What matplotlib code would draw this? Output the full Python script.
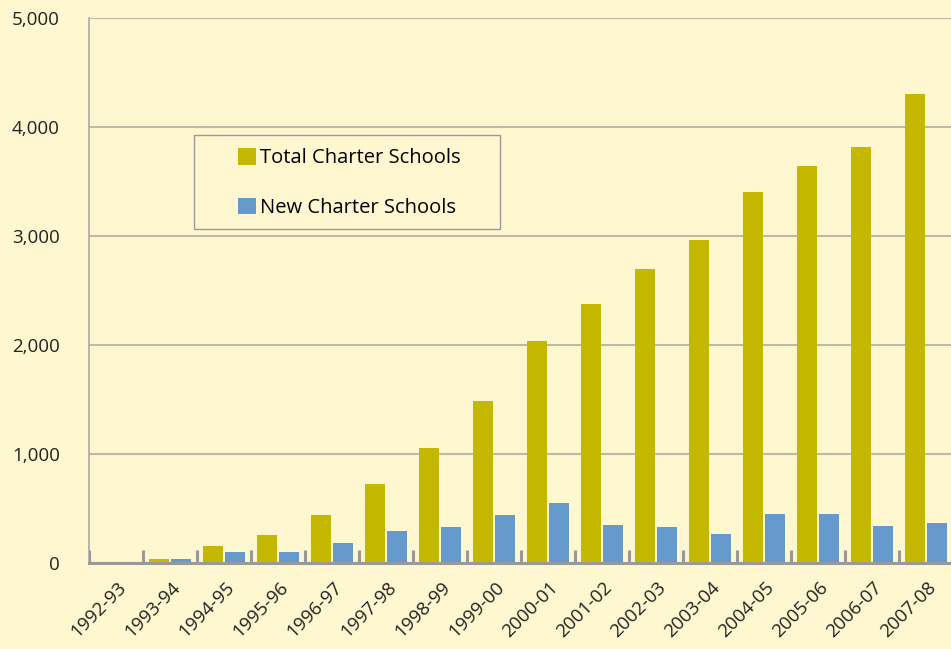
import matplotlib
matplotlib.use('agg')
import matplotlib.pyplot as plt
from matplotlib.patches import Rectangle
import numpy as np

years = ['1992-93', '1993-94', '1994-95', '1995-96', '1996-97', '1997-98',
         '1998-99', '1999-00', '2000-01', '2001-02', '2002-03', '2003-04',
         '2004-05', '2005-06', '2006-07', '2007-08']
total_schools = [0, 36, 156, 257, 440, 725, 1055, 1486, 2037, 2376, 2697,
                 2963, 3404, 3642, 3817, 4303]
new_schools = [0, 36, 100, 100, 183, 294, 330, 440, 550, 349, 330, 266,
               450, 450, 340, 367]
y_ticks = [0, 1000, 2000, 3000, 4000, 5000]

BG = '#fff7cf'
GOLD = '#c4b800'
BLUE = '#6699cc'
GRID = '#bdbba8'

plt.rcParams['font.family'] = ['Open Sans', 'DejaVu Sans']

fig = plt.figure(figsize=(9.51, 6.49), dpi=100, facecolor=BG)
# axis box runs a touch past the right edge, as in the original
ax = fig.add_axes([89 / 951, 86 / 649, 864 / 951, 545 / 649])
ax.set_facecolor(BG)

x = np.arange(len(years))
w = 0.37
ax.bar(x - w / 2 - 0.02, total_schools, w, color=GOLD,
       label='Total Charter Schools', zorder=3)
ax.bar(x + w / 2 + 0.02, new_schools, w, color=BLUE,
       label='New Charter Schools', zorder=3)

ax.set_xlim(-0.5, len(years) - 0.5)
ax.set_ylim(0, 5000)
ax.set_yticks(y_ticks)
ax.set_yticklabels(['{:,}'.format(v) for v in y_ticks], fontsize=13.5,
                   color='#222222')
ax.yaxis.grid(True, color=GRID, linewidth=1.5, zorder=0)
ax.tick_params(axis='y', length=0, pad=21)

ax.set_xticks(x + 0.02)
ax.set_xticklabels(years, rotation=45, ha='right', rotation_mode='anchor',
                   fontsize=13.5, color='#222222')
ax.tick_params(axis='x', length=0, pad=11)
for b in np.arange(len(years)) - 0.5:
    ax.plot([b, b], [0, 120], color='#999999', linewidth=2.2, zorder=4,
            solid_capstyle='butt')

ax.spines['right'].set_visible(False)
ax.spines['top'].set_color(GRID)
ax.spines['left'].set_color('#aaaaaa')
ax.spines['left'].set_linewidth(1.2)
ax.spines['bottom'].set_color('#999999')
ax.spines['bottom'].set_linewidth(2.2)
ax.spines['bottom'].set_zorder(5)

# legend box drawn separately so its padding can match the original
ax.add_patch(Rectangle((105 / 864, 334 / 545), 306 / 864, 94 / 545,
                       transform=ax.transAxes, facecolor=BG,
                       edgecolor='#999999', linewidth=1.0, zorder=6))
leg = ax.legend(loc='center left', bbox_to_anchor=(149 / 864, 380 / 545),
                frameon=False, fontsize=14.5, handlelength=0.9,
                handleheight=0.9, handletextpad=0.2, labelspacing=1.45,
                borderpad=0, borderaxespad=0)
leg.set_zorder(7)

fig.savefig('out.png', dpi=100, facecolor=BG)
